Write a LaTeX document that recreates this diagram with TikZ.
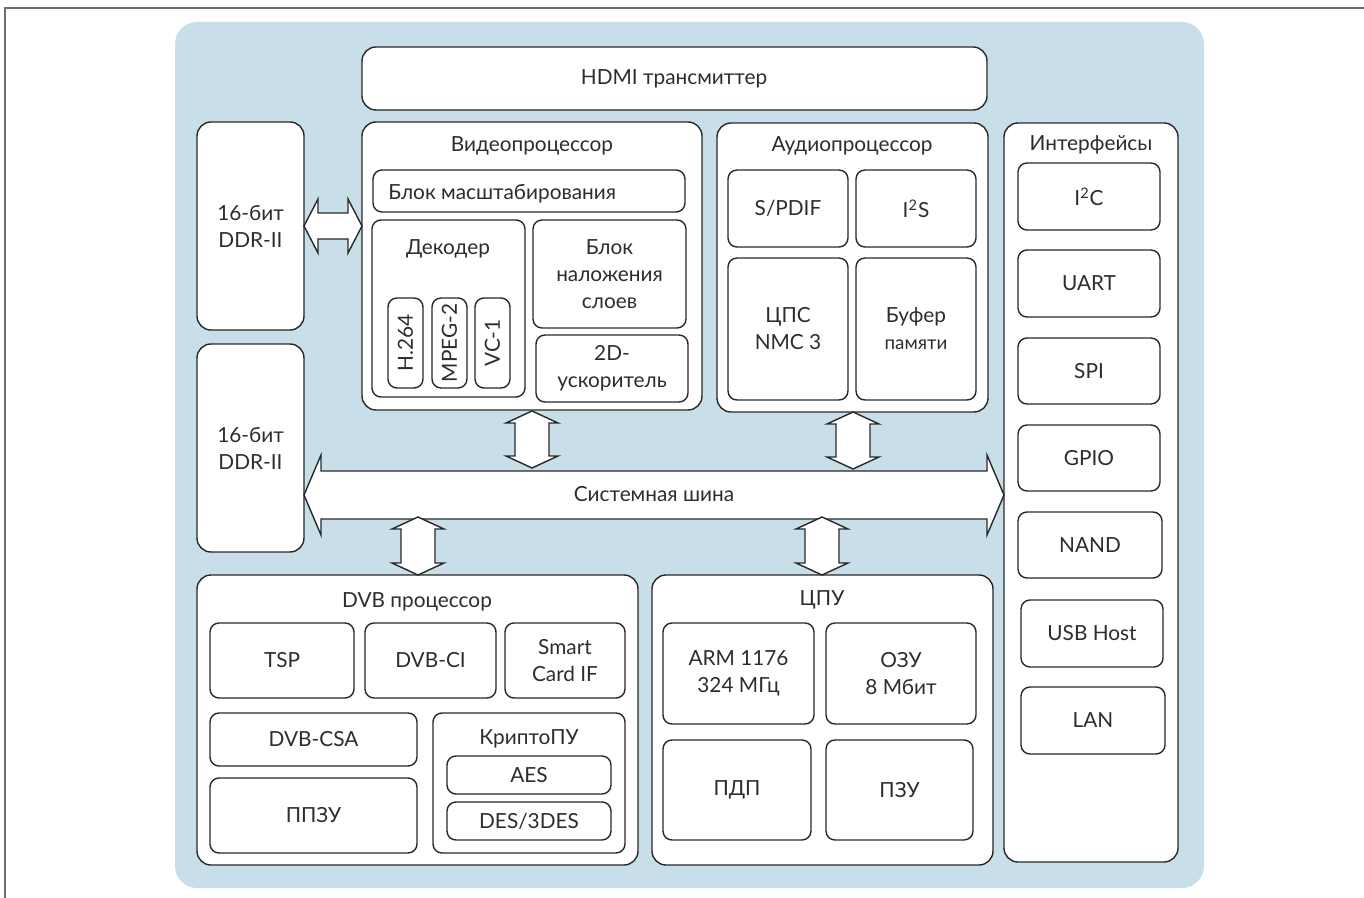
\documentclass[tikz,border=0pt]{standalone}
\usepackage{fontspec}
\setmainfont{Lato}
\usetikzlibrary{calc}
\definecolor{bgblue}{RGB}{200,223,234}
\definecolor{edgecol}{RGB}{40,40,40}
\definecolor{txtcol}{RGB}{45,45,45}
\definecolor{framegray}{RGB}{110,110,110}
\newcommand\dfont{\fontsize{10.4}{13.5}\selectfont}
\newcommand\blk[7][box]{\node[#1, minimum width={(#5-#3)*0.5pt}, minimum height={(#6-#4)*0.5pt}] (#2) at ({(#3+#5)/2},{(#4+#6)/2}) {#7};}
\newcommand\varrow[2]{\draw[arrbox] let \p1=(#1), \p2=(#2) in (\p1) -- ++(13pt,-6pt) -- ++(-4.5pt,0) -- (\x1+8.5pt,\y2+6pt) -- ++(4.5pt,0) -- (\p2) -- ++(-13pt,6pt) -- ++(4.5pt,0) -- (\x1-8.5pt,\y1-6pt) -- ++(-4.5pt,0) -- cycle;}
\begin{document}
\begin{tikzpicture}[x=0.5pt,y=-0.5pt,
  box/.style={draw=edgecol, line width=0.7pt, fill=white, rounded corners=4.5pt, inner sep=0pt, outer sep=0pt, align=center, font=\dfont, text=txtcol},
  bigbox/.style={box, rounded corners=7pt},
  title/.style={font=\dfont, text=txtcol, inner sep=0pt, anchor=base},
  arrbox/.style={draw=edgecol, line width=0.7pt, fill=white, line join=miter}]
\useasboundingbox (0,0) rectangle (1364,898);
% background
\fill[bgblue, rounded corners=11pt] (175,22) rectangle (1204,888);
\draw[framegray, line width=0.6pt] (5,898) -- (5,8) -- (1364,8);
% HDMI
\blk[bigbox]{hdmi}{362}{47}{987}{110}{}
\node[title] (hdmit) at (674,85) {HDMI трансмиттер};
% DDR
\blk[bigbox]{ddra}{197}{122}{304}{330}{16-бит\\DDR-II}
\blk[bigbox]{ddrb}{197}{344}{304}{552}{16-бит\\DDR-II}
% Video processor
\blk[bigbox]{video}{362}{122}{702}{410}{}
\node[title] (videot) at (532,152) {Видеопроцессор};
\blk{scale}{373}{170}{685}{212}{}
\node[title, anchor=base west] (scalet) at (388,200) {Блок масштабирования};
\blk{dec}{372}{220}{525}{397}{}
\node[title] (dect) at (448,255) {Декодер};
\node[box, rotate=90, minimum width=45pt, minimum height=17.5pt] (h264) at (405.5,343) {H.264};
\node[box, rotate=90, minimum width=45pt, minimum height=17.5pt] (mpeg) at (449.5,343) {MPEG-2};
\node[box, rotate=90, minimum width=45pt, minimum height=17.5pt] (vc1) at (492.5,343) {VC-1};
\blk{overlay}{533}{220}{686}{328}{Блок\\наложения\\слоев}
\blk{accel}{536}{335}{688}{402}{2D-\\ускоритель}
% Audio processor
\blk[bigbox]{audio}{717}{123}{988}{412}{}
\node[title] (audiot) at (852,152) {Аудиопроцессор};
\blk{spdif}{728}{170}{848}{247}{S/PDIF}
\blk{i2s}{856}{170}{976}{247}{I\textsuperscript{2}S}
\blk{dsp}{728}{258}{848}{400}{ЦПС\\NMC 3}
\blk{buf}{856}{258}{976}{400}{Буфер\\{\fontsize{9.4}{13.5}\selectfont памяти}}
% Interfaces
\blk[bigbox]{ifc}{1004}{123}{1178}{862}{}
\node[title] (ifct) at (1091,151) {Интерфейсы};
\blk{i2c}{1018}{163}{1160}{230}{I\textsuperscript{2}C}
\blk{uart}{1018}{250}{1160}{317}{UART}
\blk{spi}{1018}{338}{1160}{404}{SPI}
\blk{gpio}{1018}{425}{1160}{491}{GPIO}
\blk{nand}{1018}{512}{1162}{578}{NAND}
\blk{usb}{1021}{600}{1163}{667}{USB Host}
\blk{lan}{1021}{687}{1165}{754}{LAN}
% DVB processor
\blk[bigbox]{dvb}{197}{575}{638}{865}{}
\node[title] (dvbt) at (417,607) {DVB процессор};
\blk{tsp}{210}{623}{354}{698}{TSP}
\blk{dvbci}{365}{623}{496}{698}{DVB-CI}
\blk{smart}{505}{623}{625}{698}{Smart\\Card IF}
\blk{csa}{210}{713}{417}{766}{DVB-CSA}
\blk{ppzu}{210}{778}{417}{853}{ППЗУ}
\blk{crypto}{433}{713}{625}{853}{}
\node[title] (cryptot) at (529,744) {КриптоПУ};
\blk{aes}{447}{756}{611}{794}{AES}
\blk{des}{447}{802}{611}{840}{DES/3DES}
% CPU
\blk[bigbox]{cpu}{652}{575}{993}{865}{}
\node[title] (cput) at (822,605) {ЦПУ};
\blk{arm}{663}{623}{814}{724}{ARM 1176\\324 МГц}
\blk{ram}{826}{623}{976}{724}{ОЗУ\\8 Мбит}
\blk{dma}{663}{740}{811}{840}{ПДП}
\blk{rom}{826}{740}{973}{840}{ПЗУ}
% DDR <-> video arrow
\coordinate (da) at (ddra.east |- 0,226);
\coordinate (vb) at (video.west |- 0,226);
\draw[arrbox] let \p1=(da), \p2=(vb) in (\p1) -- ++(7pt,13.5pt) -- ++(0,-7pt) -- (\x2-7pt,\y1+6.5pt) -- ++(0,7pt) -- (\p2) -- ++(-7pt,-13.5pt) -- ++(0,7pt) -- (\x1+7pt,\y1-6.5pt) -- ++(0,-7pt) -- cycle;
% system bus
\coordinate (busl) at (ddrb.east |- 0,495);
\coordinate (busr) at (ifc.west |- 0,495);
\draw[arrbox] let \p1=(busl), \p2=(busr) in (\p1) -- ++(8.5pt,20pt) -- ++(0,-8pt) -- (\x2-8.5pt,\y1+12pt) -- ++(0,8pt) -- (\p2) -- ++(-8.5pt,-20pt) -- ++(0,8pt) -- (\x1+8.5pt,\y1-12pt) -- ++(0,-8pt) -- cycle;
\node[title] (bus) at (654,501) {Системная шина};
% vertical arrows
\coordinate (v1t) at (532,411); \coordinate (v1b) at (532,468);
\coordinate (v2t) at (853,412); \coordinate (v2b) at (853,469);
\coordinate (v3t) at (418,517); \coordinate (v3b) at (418,575);
\coordinate (v4t) at (822,517); \coordinate (v4b) at (822,575);
\varrow{v1t}{v1b}
\varrow{v2t}{v2b}
\varrow{v3t}{v3b}
\varrow{v4t}{v4b}
\end{tikzpicture}
\end{document}
